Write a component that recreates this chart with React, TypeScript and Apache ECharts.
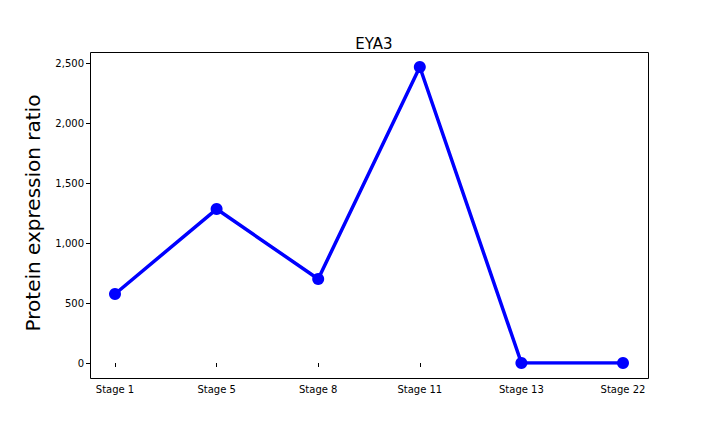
import React, { useEffect, useRef } from 'react';
import * as echarts from 'echarts';

const stages = ['Stage 1', 'Stage 5', 'Stage 8', 'Stage 11', 'Stage 13', 'Stage 22'];
const ratios = [575, 1283, 700, 2467, 0, 0];

const App: React.FC = () => {
  const chartRef = useRef<HTMLDivElement>(null);

  useEffect(() => {
    if (!chartRef.current) return;
    const myChart = echarts.init(chartRef.current, null, { renderer: 'svg' });
    const font = 'DejaVu Sans';
    myChart.setOption({
      animation: false,
      textStyle: { fontFamily: font },
      title: {
        text: 'EYA3',
        left: 369,
        top: 31,
        textAlign: 'center',
        textStyle: { fontSize: 15, fontWeight: 'normal', color: '#000', fontFamily: font },
      },
      grid: { left: 115, right: 97, top: 63, bottom: 69 },
      xAxis: {
        type: 'category',
        data: stages,
        boundaryGap: false,
        offset: 15,
        axisLine: { show: false },
        axisTick: { show: true, length: 4, lineStyle: { color: '#000' } },
        axisLabel: { color: '#000', fontSize: 10, margin: 6 },
        splitLine: { show: false },
      },
      yAxis: {
        type: 'value',
        min: 0,
        max: 2500,
        interval: 500,
        offset: 25,
        name: 'Protein expression ratio',
        nameLocation: 'middle',
        nameGap: 47,
        nameTextStyle: { fontSize: 20, color: '#000', fontFamily: font },
        axisLine: { show: false },
        axisTick: { show: true, length: 4, lineStyle: { color: '#000' } },
        axisLabel: { color: '#000', fontSize: 10, margin: 6 },
        splitLine: { show: false },
      },
      graphic: [
        {
          type: 'rect',
          shape: { x: 90.5, y: 52.5, width: 558, height: 326 },
          style: { fill: 'none', stroke: '#000', lineWidth: 1 },
          silent: true,
        },
      ],
      series: [
        {
          type: 'line',
          data: ratios,
          symbol: 'circle',
          symbolSize: 12,
          lineStyle: { color: '#0000ff', width: 3.5 },
          itemStyle: { color: '#0000ff' },
        },
      ],
    });
    return () => myChart.dispose();
  }, []);

  return <div ref={chartRef} style={{ width: 720, height: 432, margin: -8 }}></div>;
};

export default App;
